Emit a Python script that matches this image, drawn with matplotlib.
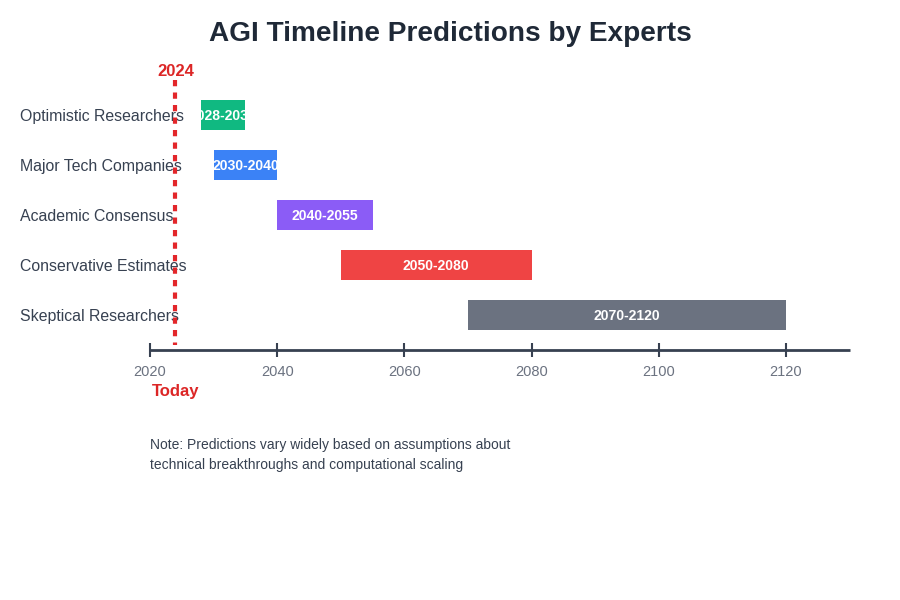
import matplotlib
matplotlib.use("Agg")
import matplotlib.pyplot as plt
from matplotlib.transforms import blended_transform_factory

plt.rcParams['font.family'] = ['Liberation Sans', 'DejaVu Sans']

# data
groups = ["Optimistic Researchers", "Major Tech Companies", "Academic Consensus",
          "Conservative Estimates", "Skeptical Researchers"]
start_years = [2028, 2030, 2040, 2050, 2070]
end_years = [2035, 2040, 2055, 2080, 2120]
bar_colors = ["#10b981", "#3b82f6", "#8b5cf6", "#ef4444", "#6b7280"]
tick_years = [2020, 2040, 2060, 2080, 2100, 2120]
today_year = 2024

W, H = 900, 600
fig = plt.figure(figsize=(9, 6), dpi=100)

# axes placed in pixel terms: x 2020 -> 150px, 2130 -> ~850px; rows 50px apart
x0, x1 = 2020, 2130
px_per_year = 6.36
ax_left, ax_right = 150, 150 + (x1 - x0) * px_per_year
ax_top, ax_bottom = 65, 350
ax = fig.add_axes([ax_left / W, 1 - ax_bottom / H,
                   (ax_right - ax_left) / W, (ax_bottom - ax_top) / H])
ax.set_xlim(x0, x1)
ax.set_ylim(4.7, -1.0)

for s in ['top', 'right', 'left']:
    ax.spines[s].set_visible(False)
ax.spines['bottom'].set_color('#374151')
ax.spines['bottom'].set_linewidth(2)
ax.spines['bottom'].set_capstyle('butt')
ax.set_yticks([])
ax.set_xticks(tick_years)
ax.set_xticklabels([str(t) for t in tick_years])
ax.tick_params(axis='x', direction='inout', length=10, width=1.5, color='#374151',
               labelcolor='#6b7280', labelsize=10.5, pad=5.5)

label_tf = blended_transform_factory(ax.transAxes, ax.transData)
label_x = (20 - ax_left) / (ax_right - ax_left)

for i, name in enumerate(groups):
    ax.text(label_x, i, name, transform=label_tf, ha='left', va='center_baseline',
            fontsize=11.4, color='#374151', clip_on=False)
    bars = ax.barh(i, end_years[i] - start_years[i], left=start_years[i], height=0.6,
                   color=bar_colors[i], zorder=2)
    rect = bars.patches[0]
    t = ax.text((start_years[i] + end_years[i]) / 2, i,
                f"{start_years[i]}-{end_years[i]}", ha='center', va='center_baseline',
                fontsize=10.1, fontweight='bold', color='white', zorder=3)
    t.set_clip_path(rect)

# today marker
ax.vlines(today_year, -0.7, 4.6, colors='#e3262a', linestyles=(0, (1.5, 1.5)),
          linewidth=3, zorder=5, clip_on=False)
ax.text(today_year, -0.9, str(today_year), ha='center', va='center_baseline', fontsize=12,
        fontweight='bold', color='#dc2626', clip_on=False)
ax.text(today_year, 5.5, "Today", ha='center', va='center_baseline', fontsize=12,
        fontweight='bold', color='#dc2626', clip_on=False)

fig.text(0.5, 1 - 31 / H, "AGI Timeline Predictions by Experts", ha='center',
         va='center_baseline', fontsize=20.2, fontweight='bold', color='#1f2937')
fig.text(150 / W, 1 - 455 / H,
         "Note: Predictions vary widely based on assumptions about\n"
         "technical breakthroughs and computational scaling",
         ha='left', va='center', fontsize=10, color='#374151', linespacing=1.6)

fig.savefig("out.png", dpi=100, facecolor='white')
